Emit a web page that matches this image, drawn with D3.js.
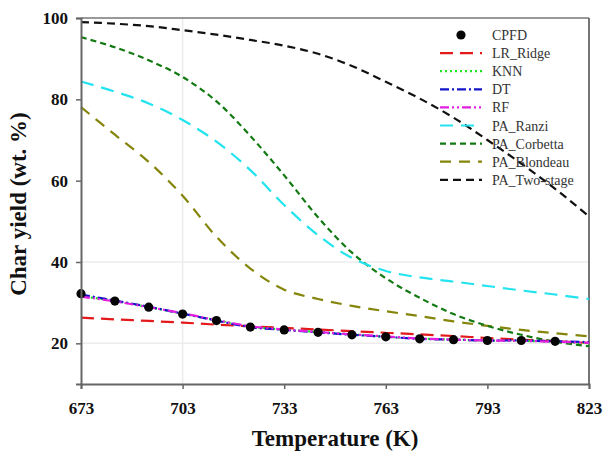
<!DOCTYPE html>
<html>
<head>
<meta charset="utf-8">
<script src="https://cdn.jsdelivr.net/npm/d3@7"></script>
<style>
  html, body { margin: 0; padding: 0; background: #fff; }
  svg { display: block; }
</style>
</head>
<body>
<svg id="chart" width="609" height="461"></svg>
<script>
// ---- data ----
const temps = [673, 683, 693, 703, 713, 723, 733, 743, 753, 763, 773, 783, 793, 803, 813, 823];
const cpfdTemps = [673, 683, 693, 703, 713, 723, 733, 743, 753, 763, 773, 783, 793, 803, 813];
const cpfd = [32.2, 30.4, 28.9, 27.2, 25.6, 24.0, 23.3, 22.7, 22.1, 21.6, 21.1, 20.9, 20.7, 20.7, 20.5];
const lrRidge = [26.3, 25.9, 25.5, 25.1, 24.6, 24.2, 23.8, 23.4, 23.0, 22.6, 22.2, 21.8, 21.3, 20.9, 20.5, 20.1];
const knn = [31.6, 30.4, 28.9, 27.3, 25.7, 24.1, 23.4, 22.8, 22.2, 21.6, 21.2, 20.9, 20.7, 20.6, 20.4, 20.0];
const dt = [32.0, 30.5, 29.0, 27.3, 25.6, 24.0, 23.3, 22.7, 22.1, 21.6, 21.1, 20.9, 20.7, 20.7, 20.5, 20.3];
const rf = [31.5, 30.3, 28.9, 27.4, 25.7, 24.2, 23.4, 22.8, 22.2, 21.7, 21.2, 20.9, 20.7, 20.6, 20.4, 20.1];
const paRanzi = [84.4, 81.9, 79.0, 74.9, 69.6, 62.6, 54.0, 46.6, 41.0, 37.8, 36.2, 35.2, 34.1, 33.0, 32.0, 30.9];
const paCorbetta = [95.3, 92.8, 89.6, 85.5, 79.5, 71.0, 61.3, 51.0, 42.3, 36.0, 31.2, 27.2, 24.3, 22.1, 20.4, 19.3];
const paBlondeau = [78.1, 71.3, 64.6, 56.3, 46.2, 38.4, 33.2, 30.9, 29.2, 27.9, 26.7, 25.4, 24.3, 23.3, 22.5, 21.7];
const paTwoStage = [99.0, 98.6, 98.0, 97.0, 95.9, 94.6, 93.2, 91.2, 88.2, 84.3, 80.2, 75.5, 70.0, 64.2, 58.0, 51.2];
const xTicks = [673, 703, 733, 763, 793, 823];
const yTicks = [20, 40, 60, 80, 100];

const seriesNames = ["LR_Ridge", "KNN", "DT", "RF", "PA_Ranzi", "PA_Corbetta", "PA_Blondeau", "PA_Two-stage"];
const seriesValues = [lrRidge, knn, dt, rf, paRanzi, paCorbetta, paBlondeau, paTwoStage];
const seriesColors = ["#e3191c", "#1ee61e", "#1414c8", "#e11ee1", "#22e3ee", "#137a13", "#85850a", "#111111"];
const seriesDash = ["13,7", "2,3", "9,3,2,3", "9,3,2,3,2,3", "13,8", "6,4", "11,8", "8,5"];

// ---- layout ----
const svg = d3.select("#chart");
const x = d3.scaleLinear().domain([673, 823]).range([81, 589]);
const y = d3.scaleLinear().domain([10, 100]).range([384, 18]);
const serif = "'Liberation Serif', 'Times New Roman', serif";

// faint grid lines
const grid = svg.append("g");
grid.selectAll("line.h").data([20, 40]).enter().append("line")
  .attr("x1", x(673)).attr("x2", x(823))
  .attr("y1", d => y(d)).attr("y2", d => y(d))
  .attr("stroke", "#ececec").attr("stroke-width", 1.5);
grid.selectAll("line.v").data([703]).enter().append("line")
  .attr("x1", d => x(d)).attr("x2", d => x(d))
  .attr("y1", y(100)).attr("y2", y(10))
  .attr("stroke", "#ececec").attr("stroke-width", 1.5);

// frame top & right
svg.append("line").attr("x1", x(673)).attr("x2", x(823)).attr("y1", y(100)).attr("y2", y(100))
  .attr("stroke", "#777").attr("stroke-width", 1.5);
svg.append("line").attr("x1", x(823)).attr("x2", x(823)).attr("y1", y(100)).attr("y2", y(10))
  .attr("stroke", "#666").attr("stroke-width", 1.8);

// lines
const line = d3.line().x((d, i) => x(temps[i])).y(d => y(d)).curve(d3.curveCatmullRom.alpha(0.5));
const order = [7, 6, 5, 4, 0, 1, 2, 3];
order.forEach(k => {
  svg.append("path")
    .attr("d", line(seriesValues[k]))
    .attr("fill", "none")
    .attr("stroke", seriesColors[k])
    .attr("stroke-width", 2.2)
    .attr("stroke-dasharray", seriesDash[k]);
});

// CPFD points
svg.append("g").selectAll("circle").data(cpfd).enter().append("circle")
  .attr("cx", (d, i) => x(cpfdTemps[i]))
  .attr("cy", d => y(d))
  .attr("r", 4.6)
  .attr("fill", "#050505");

// axes
const axX = svg.append("g").attr("transform", `translate(0,${y(10)})`)
  .call(d3.axisBottom(x).tickValues(xTicks).tickSize(5).tickPadding(13).tickFormat(d3.format("d")));
const axY = svg.append("g").attr("transform", `translate(${x(673)},0)`)
  .call(d3.axisLeft(y).tickValues(yTicks).tickSize(5).tickPadding(8).tickFormat(d3.format("d")));
[axX, axY].forEach(ax => {
  ax.select(".domain").attr("stroke", "#666").attr("stroke-width", 2);
  ax.selectAll(".tick line").attr("stroke", "#666").attr("stroke-width", 1.5);
  ax.selectAll(".tick text")
    .attr("font-family", serif)
    .attr("font-weight", "bold")
    .attr("font-size", 17)
    .attr("fill", "#111");
});

// axis titles
svg.append("text")
  .attr("x", 335).attr("y", 446)
  .attr("text-anchor", "middle")
  .attr("font-family", serif)
  .attr("font-weight", "bold").attr("font-size", 23).attr("fill", "#111")
  .text("Temperature (K)");
svg.append("text")
  .attr("transform", "translate(26,204) rotate(-90)")
  .attr("text-anchor", "middle")
  .attr("font-family", serif)
  .attr("font-weight", "bold").attr("font-size", 23).attr("fill", "#111")
  .text("Char yield (wt. %)");

// legend
const legend = svg.append("g");
const legY0 = 35, legStep = 18.1;
legend.append("circle").attr("cx", 461).attr("cy", legY0).attr("r", 4.6).attr("fill", "#050505");
legend.append("text").attr("x", 492).attr("y", legY0 + 5)
  .attr("font-family", serif)
  .attr("font-size", 14).attr("fill", "#333").text("CPFD");
seriesNames.forEach((name, k) => {
  const yy = legY0 + legStep * (k + 1);
  legend.append("line").attr("x1", 440).attr("x2", 482).attr("y1", yy).attr("y2", yy)
    .attr("stroke", seriesColors[k]).attr("stroke-width", 2.2)
    .attr("stroke-dasharray", seriesDash[k]);
  legend.append("text").attr("x", 492).attr("y", yy + 5)
    .attr("font-family", serif)
    .attr("font-size", 14).attr("fill", "#333").text(name);
});
</script>
</body>
</html>
